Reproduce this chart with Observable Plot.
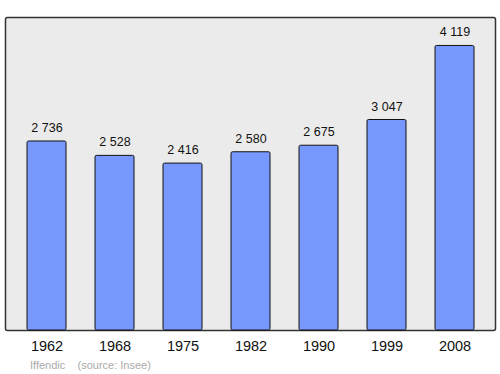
<!DOCTYPE html>
<html>
<head>
<meta charset="utf-8">
<script src="https://cdn.jsdelivr.net/npm/d3@7"></script>
<script src="https://cdn.jsdelivr.net/npm/@observablehq/plot@0.6"></script>
<style>
  body { margin: 0; background: #fff; font-family: "Liberation Sans", Arial, sans-serif; }
  #caption { font-size: 11px; color: #aaa; line-height: 14px; padding-left: 30px; white-space: pre; }
</style>
</head>
<body>
<div id="chart"></div>
<div id="caption">Iffendic    (source: Insee)</div>
<script>
const years = ["1962", "1968", "1975", "1982", "1990", "1999", "2008"];
const population = [2736, 2528, 2416, 2580, 2675, 3047, 4119];
const labels = ["2 736", "2 528", "2 416", "2 580", "2 675", "3 047", "4 119"];

const data = years.map((y, i) => ({year: y, value: population[i], label: labels[i]}));

const chart = Plot.plot({
  width: 500,
  height: 358,
  marginTop: 17,
  marginBottom: 28,
  marginLeft: 5,
  marginRight: 5,
  style: {fontFamily: "'Liberation Sans', Arial, sans-serif", background: "#fff"},
  x: {domain: years, paddingInner: 0.43, paddingOuter: 0.3, label: null},
  y: {domain: [0, 4531], axis: null},
  marks: [
    Plot.frame({fill: "#ebebeb", stroke: "#333", strokeWidth: 1.5, rx: 2}),
    Plot.barY(data, {x: "year", y: "value", fill: "#7799ff", stroke: "#111", strokeWidth: 1, rx: 1.5}),
    Plot.text(data, {x: "year", y: "value", text: "label", lineAnchor: "bottom", dy: -9.5, fontSize: 12.5, fill: "#111"}),
    Plot.axisX({tickSize: 0, tickPadding: 10.5, fontSize: 14.5, fill: "#111", label: null})
  ]
});
document.getElementById("chart").appendChild(chart);
</script>
</body>
</html>
